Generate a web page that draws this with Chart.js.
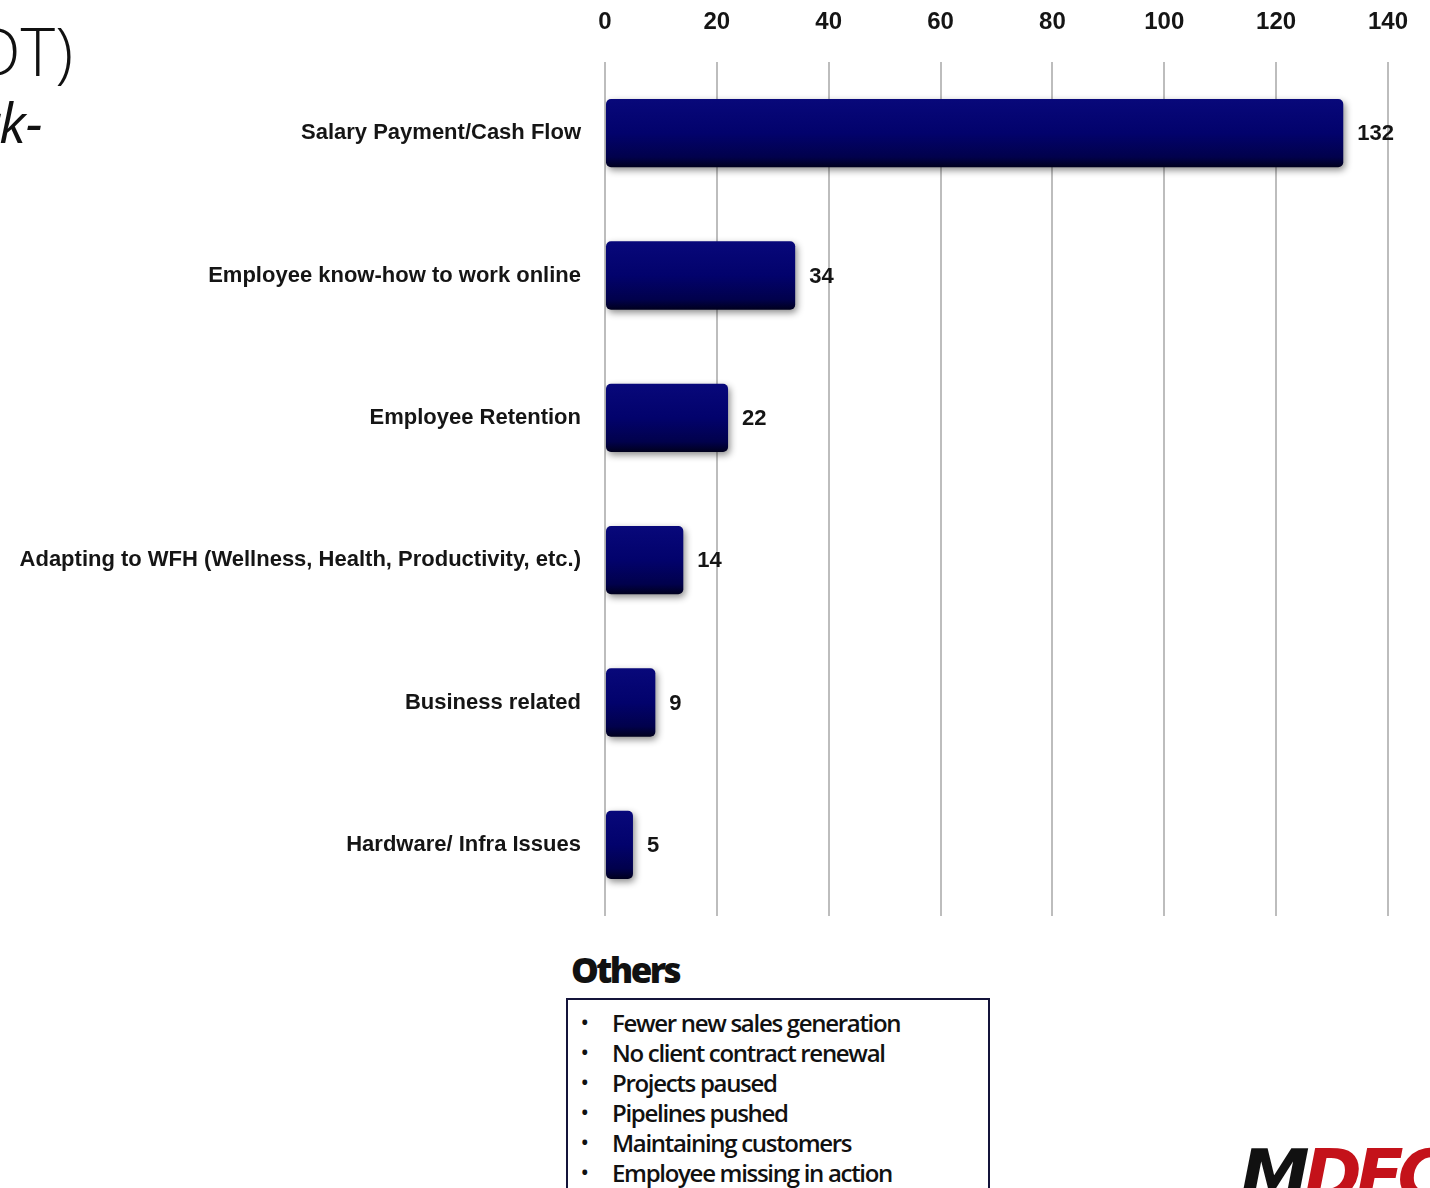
<!DOCTYPE html>
<html>
<head>
<meta charset="utf-8">
<script src="https://cdn.jsdelivr.net/npm/chart.js@4.4.1/dist/chart.umd.min.js"></script>
<style>
  html, body { margin: 0; padding: 0; background: #ffffff; overflow: hidden; }
  body { width: 1430px; height: 1188px; position: relative; }
  #wrap { position: absolute; left: 0; top: 0; width: 1430px; height: 940px; }
  .title1 { position: absolute; left: -26px; top: 17px; font-family: 'Open Sans', sans-serif; font-weight: 300; font-size: 66px; line-height: 1; color: #111; white-space: nowrap; }
  .title2 { position: absolute; left: -22px; top: 95px; font-family: 'Open Sans', sans-serif; font-style: italic; font-weight: 500; font-size: 54px; line-height: 1; color: #111; white-space: nowrap; }
  .others-h { position: absolute; left: 571px; top: 946px; font-family: 'Open Sans', sans-serif; font-weight: 800; font-size: 35px; letter-spacing: -2.6px; color: #111; }
  .others-box { position: absolute; left: 566px; top: 998px; width: 424px; height: 210px; border: 2px solid #14143a; box-sizing: border-box; }
  .others-box ul { margin: 0; padding: 8px 0 0 0; list-style: none; }
  .others-box li { position: relative; padding-left: 44px; height: 30px; line-height: 30px; font-family: 'Open Sans', sans-serif; font-weight: 600; font-size: 24px; letter-spacing: -1.3px; color: #111; white-space: nowrap; }
  .others-box li::before { content: '\2022'; position: absolute; left: 13px; top: 0; font-size: 20px; }
  .logo { position: absolute; left: 1240px; top: 1140px; font-family: 'DejaVu Sans', sans-serif; font-weight: bold; font-style: italic; font-size: 70px; line-height: 1; letter-spacing: -6px; white-space: nowrap; }
  .logo .m { color: #111; }
  .logo .r { color: #c4121a; }
</style>
</head>
<body>
<div class="title1">DT)</div>
<div class="title2">rk-</div>

<div id="wrap"><canvas id="chart" width="1430" height="940"></canvas></div>

<div class="others-h">Others</div>
<div class="others-box"><ul id="others"></ul></div>

<div class="logo"><span class="m">M</span><span class="r">DEC</span></div>

<script>
// Challenges reported, number of responses
const categories = [
  'Salary Payment/Cash Flow',
  'Employee know-how to work online',
  'Employee Retention',
  'Adapting to WFH (Wellness, Health, Productivity, etc.)',
  'Business related',
  'Hardware/ Infra Issues'
];
const responses = [132, 34, 22, 14, 9, 5];
const axisTicks = [0, 20, 40, 60, 80, 100, 120, 140];
const otherItems = [
  'Fewer new sales generation',
  'No client contract renewal',
  'Projects paused',
  'Pipelines pushed',
  'Maintaining customers',
  'Employee missing in action'
];

const list = document.getElementById('others');
otherItems.forEach(t => {
  const li = document.createElement('li');
  li.textContent = t;
  list.appendChild(li);
});

const FONT = "'Liberation Sans', Arial, sans-serif";
const BAR_PCT = 0.48;

// vertical shading for each bar, computed from the category scale
function barFill(ctx) {
  const chart = ctx.chart;
  const area = chart.chartArea;
  const y = chart.scales && chart.scales.y;
  if (!area || !y || ctx.dataIndex === undefined) return '#04046c';
  const c = y.getPixelForValue(ctx.dataIndex);
  const band = (area.bottom - area.top) / categories.length;
  const h = band * BAR_PCT;
  const g = chart.ctx.createLinearGradient(0, c - h / 2, 0, c + h / 2);
  g.addColorStop(0, '#08087a');
  g.addColorStop(0.5, '#02026c');
  g.addColorStop(0.85, '#01014c');
  g.addColorStop(1, '#00001e');
  return g;
}

const shadowPlugin = {
  id: 'barShadow',
  beforeDatasetDraw(chart) {
    const c = chart.ctx;
    c.save();
    c.shadowColor = 'rgba(0,0,0,0.45)';
    c.shadowBlur = 7;
    c.shadowOffsetX = 2;
    c.shadowOffsetY = 3;
  },
  afterDatasetDraw(chart) {
    chart.ctx.restore();
  }
};

const valueLabels = {
  id: 'valueLabels',
  afterDatasetsDraw(chart) {
    const c = chart.ctx;
    const meta = chart.getDatasetMeta(0);
    c.save();
    c.font = 'bold 22px ' + FONT;
    c.fillStyle = '#151515';
    c.textAlign = 'left';
    c.textBaseline = 'middle';
    meta.data.forEach((bar, i) => {
      c.fillText(String(responses[i]), bar.x + 14, bar.y + 1);
    });
    c.restore();
  }
};

const chart = new Chart(document.getElementById('chart'), {
  type: 'bar',
  data: {
    labels: categories,
    datasets: [{
      data: responses,
      backgroundColor: barFill,
      borderWidth: 0,
      borderRadius: 5,
      borderSkipped: false,
      barPercentage: BAR_PCT,
      categoryPercentage: 1
    }]
  },
  options: {
    indexAxis: 'y',
    responsive: false,
    animation: false,
    layout: { padding: { left: 0, right: 42, top: 0, bottom: 24 } },
    plugins: { legend: { display: false }, tooltip: { enabled: false } },
    scales: {
      x: {
        position: 'top',
        min: 0,
        max: 140,
        afterBuildTicks(scale) { scale.ticks = axisTicks.map(v => ({ value: v })); },
        afterFit(scale) {
          scale.height = 62;
          scale.paddingLeft = 0;
          scale.paddingRight = 0;
        },
        grid: { color: '#bdbdbd', lineWidth: 2, drawTicks: false },
        border: { display: false },
        ticks: {
          padding: 25,
          color: '#151515',
          font: { family: FONT, weight: 'bold', size: 24 }
        }
      },
      y: {
        afterFit(scale) {
          scale.width = 605;
          scale.paddingTop = 0;
          scale.paddingBottom = 0;
        },
        grid: { display: false, drawTicks: false },
        border: { display: false },
        ticks: {
          padding: 24,
          color: '#151515',
          font: { family: FONT, weight: 'bold', size: 22 }
        }
      }
    }
  },
  plugins: [shadowPlugin, valueLabels]
});
// redraw once the layout exists so the bar shading is built from it
chart.update();
</script>
</body>
</html>
